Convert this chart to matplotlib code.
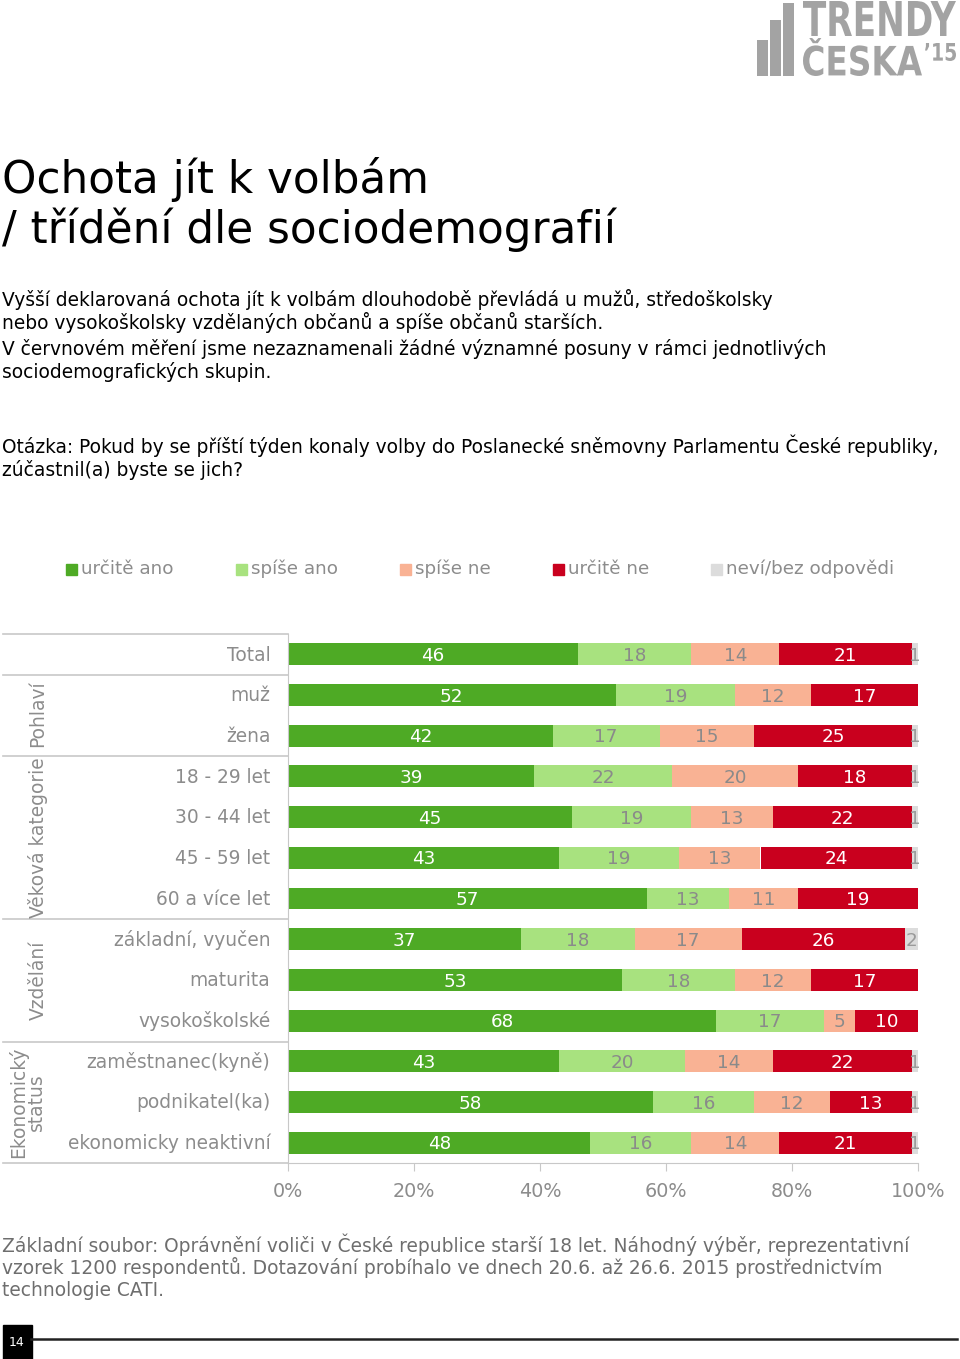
import numpy as np
import matplotlib.pyplot as plt
from matplotlib.patches import Rectangle, PathPatch
from matplotlib.lines import Line2D
from matplotlib.textpath import TextPath
from matplotlib.font_manager import FontProperties
from matplotlib.path import Path

# data
kategorie = ["Total", "muž", "žena", "18 - 29 let", "30 - 44 let", "45 - 59 let",
             "60 a více let", "základní, vyučen", "maturita", "vysokoškolské",
             "zaměstnanec(kyně)", "podnikatel(ka)", "ekonomicky neaktivní"]
urcite_ano = [46, 52, 42, 39, 45, 43, 57, 37, 53, 68, 43, 58, 48]
spise_ano = [18, 19, 17, 22, 19, 19, 13, 18, 18, 17, 20, 16, 16]
spise_ne = [14, 12, 15, 20, 13, 13, 11, 17, 12, 5, 14, 12, 14]
urcite_ne = [21, 17, 25, 18, 22, 24, 19, 26, 17, 10, 22, 13, 21]
nevi = [1, 0, 1, 1, 1, 1, 0, 2, 0, 0, 1, 1, 1]
serie = ["určitě ano", "spíše ano", "spíše ne", "určitě ne", "neví/bez odpovědi"]
skupiny = ["Pohlaví", "Věková kategorie", "Vzdělání", "Ekonomický\nstatus"]
tiky = [0, 20, 40, 60, 80, 100]

barvy = ["#4EAA25", "#A8E27F", "#F9B294", "#C9001E", "#DCDCDC"]
barvy_textu = ["white", "#8A8A8A", "#8A8A8A", "white", "#9A9A9A"]
seda = "#8C8C8C"
carova = "#C8C8C8"

W, H = 960, 1359
fig = plt.figure(figsize=(W / 100, H / 100), dpi=100)
plt.rcParams['font.family'] = ['DejaVu Sans']


def fx(px):
    return px / W


def fy(py):
    return 1 - py / H


# vrstva v pixelech pro logo
lay = fig.add_axes([0, 0, 1, 1])
lay.set_xlim(0, W)
lay.set_ylim(H, 0)
lay.axis("off")
logo_seda = "#A3A3A3"
for x0, top in [(757, 40), (770, 20), (783, 3)]:
    lay.add_patch(Rectangle((x0, top), 11, 76 - top, color=logo_seda, lw=0))


def text_do_boxu(s, x0, x1, y0, y1):
    p = TextPath((0, 0), s, size=50, prop=FontProperties(family="DejaVu Sans", weight="bold"))
    e = p.get_extents()
    sx = (x1 - x0) / e.width
    sy = (y1 - y0) / e.height
    v = p.vertices.copy()
    v[:, 0] = x0 + (v[:, 0] - e.x0) * sx
    v[:, 1] = y1 - (v[:, 1] - e.y0) * sy
    lay.add_patch(PathPatch(Path(v, p.codes), color=logo_seda, lw=0))


text_do_boxu("TRENDY", 803, 956, 1, 36)
text_do_boxu("ČESKA", 803, 922, 38, 76)
text_do_boxu("’15", 925, 956, 43, 61)

# nadpis a texty
fig.text(fx(2), fy(193), "Ochota jít k volbám", fontsize=31.5, color="black")
fig.text(fx(2), fy(243), "/ třídění dle sociodemografií", fontsize=31.5, color="black")
uvod = ["Vyšší deklarovaná ochota jít k volbám dlouhodobě převládá u mužů, středoškolsky",
        "nebo vysokoškolsky vzdělaných občanů a spíše občanů starších.",
        "V červnovém měření jsme nezaznamenali žádné významné posuny v rámci jednotlivých",
        "sociodemografických skupin."]
for r, y in zip(uvod, [306, 329, 355, 378]):
    fig.text(fx(2), fy(y), r, fontsize=13.4, color="black")
otazka = ["Otázka: Pokud by se příští týden konaly volby do Poslanecké sněmovny Parlamentu České republiky,",
          "zúčastnil(a) byste se jich?"]
for r, y in zip(otazka, [453, 476]):
    fig.text(fx(2), fy(y), r, fontsize=13.4, color="black")

# legenda
leg_x = [66, 236, 400, 553, 711]
for x0, nazev, c in zip(leg_x, serie, barvy):
    fig.patches.append(Rectangle((fx(x0), fy(575)), fx(11), 11 / H,
                                 transform=fig.transFigure, color=c))
    fig.text(fx(x0 + 15), fy(569), nazev, fontsize=13.2, color=seda, va="center")

# graf
ax = fig.add_axes([fx(288), fy(1163), fx(630), (1163 - 634) / H])
y = np.arange(len(kategorie))
hodnoty = [urcite_ano, spise_ano, spise_ne, urcite_ne, nevi]
zleva = np.zeros(len(kategorie))
for vals, c, tc in zip(hodnoty, barvy, barvy_textu):
    vals = np.array(vals, dtype=float)
    ax.barh(y, vals, left=zleva, height=0.54, color=c)
    for yi, (l, v) in enumerate(zip(zleva, vals)):
        if v > 0:
            ax.text(l + v / 2, yi + 0.04, f"{int(v)}", ha="center", va="center",
                    color=tc, fontsize=13.2)
    zleva += vals

ax.set_xlim(0, 100)
ax.set_ylim(len(kategorie) - 0.5, -0.5)
ax.set_yticks([])
ax.set_xticks(tiky)
ax.set_xticklabels([f"{t}%" for t in tiky], fontsize=13.8, color=seda)
ax.tick_params(axis="x", length=6, color=carova, pad=8)
for s in ["top", "right"]:
    ax.spines[s].set_visible(False)
ax.spines["bottom"].set_color(carova)
ax.spines["left"].set_color(carova)
ax.patch.set_alpha(0)

# popisky kategorii
for yi, k in enumerate(kategorie):
    ax.text(-0.028, yi + 0.02, k, transform=ax.get_yaxis_transform(), ha="right",
            va="center", fontsize=13.4, color=seda)

# cary tabulky vlevo
for py in [634, 675, 756, 919, 1042, 1163]:
    fig.add_artist(Line2D([fx(3), fx(288)], [fy(py), fy(py)], color=carova, lw=1.2))

# nazvy skupin
stredy = {"Pohlaví": (38, 714), "Věková kategorie": (38, 838),
          "Vzdělání": (38, 980), "Ekonomický\nstatus": (27, 1102)}
for nazev in skupiny:
    sx, sy = stredy[nazev]
    fig.text(fx(sx), fy(sy), nazev, rotation=90, ha="center", va="center",
             fontsize=13.4, color=seda, linespacing=0.95)

# paticka
pozn = ["Základní soubor: Oprávnění voliči v České republice starší 18 let. Náhodný výběr, reprezentativní",
        "vzorek 1200 respondentů. Dotazování probíhalo ve dnech 20.6. až 26.6. 2015 prostřednictvím",
        "technologie CATI."]
for r, py in zip(pozn, [1252, 1274, 1296]):
    fig.text(fx(2), fy(py), r, fontsize=13.4, color="#6E6E6E")

fig.patches.append(Rectangle((fx(3), fy(1359)), fx(29), 34 / H,
                             transform=fig.transFigure, color="black"))
fig.text(fx(17), fy(1343), "14", color="white", fontsize=9, ha="center", va="center")
fig.add_artist(Line2D([fx(31), fx(957)], [fy(1339), fy(1339)], color="#222222", lw=1.8))

fig.savefig("out.png", dpi=100)
